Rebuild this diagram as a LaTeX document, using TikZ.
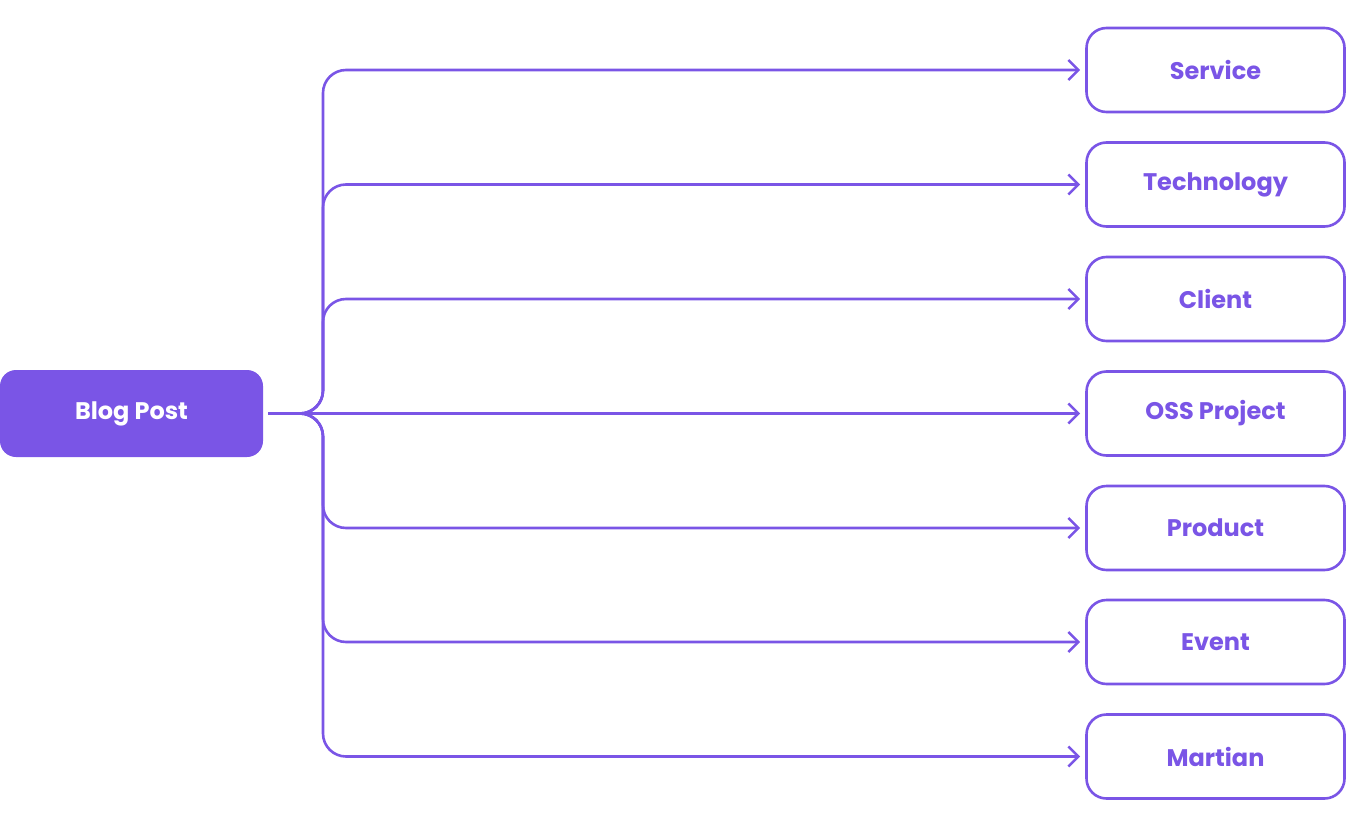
\documentclass[tikz,border=0pt]{standalone}
\usepackage{fontspec}
\setmainfont{Poppins}
\usetikzlibrary{arrows.meta}
\definecolor{purp}{HTML}{7A55E6}
\begin{document}
\begin{tikzpicture}[x=1pt,y=-1pt,
  target/.style={draw=purp, line width=2.6pt, rounded corners=20pt, fill=white,
    minimum width=258pt, minimum height=84pt, inner sep=0pt,
    font=\fontsize{24}{28}\selectfont\bfseries, text=purp},
  source/.style={fill=purp, rounded corners=16pt, minimum width=263pt, minimum height=87pt,
    inner sep=0pt, font=\fontsize{24}{28}\selectfont\bfseries, text=white},
  link/.style={draw=purp, line width=2.6pt, rounded corners=23pt,
    -{Straight Barb[length=10pt,width=20pt,line width=2.6pt]}}]
\useasboundingbox (0,0) rectangle (1348,832);
\node[source] (bp) at (131.5,413.5) {Blog Post};
\node[target] (t1) at (1215.5,70) {Service};
\node[target] (t2) at (1215.5,184.5) {Technology};
\node[target] (t3) at (1215.5,299) {Client};
\node[target] (t4) at (1215.5,413.5) {OSS Project};
\node[target] (t5) at (1215.5,528) {Product};
\node[target] (t6) at (1215.5,642) {Event};
\node[target] (t7) at (1215.5,756.5) {Martian};
\coordinate (s) at (268,413.5);
\coordinate (j) at (300,413.5);
\coordinate (k) at (323,413.5);
\draw[purp, line width=2.6pt] (s) -- (j);
\foreach \t in {t1,t2,t3,t5,t6,t7}{
  \draw[link] (j) -- (k) -- (k |- \t.west) -- ([xshift=-5pt]\t.west);
}
\draw[link] (j) -- ([xshift=-5pt]t4.west);
\end{tikzpicture}
\end{document}
